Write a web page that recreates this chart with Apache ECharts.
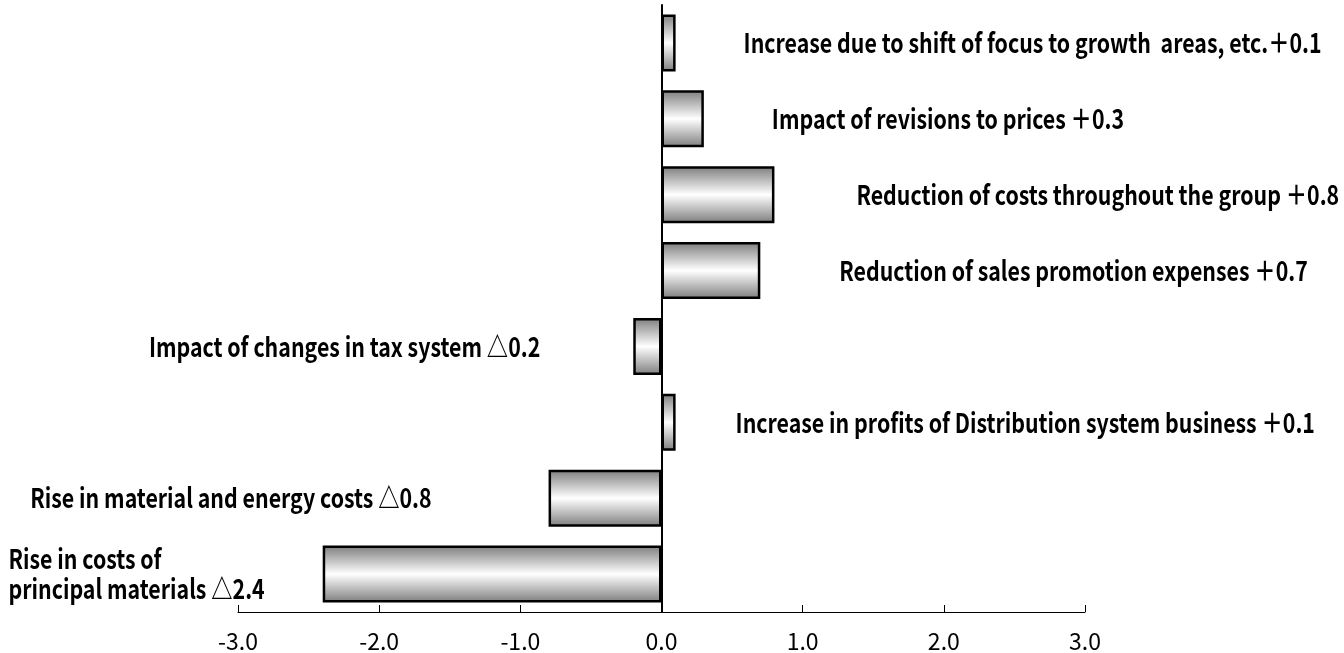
<!DOCTYPE html>
<html>
<head>
<meta charset="utf-8">
<script src="https://cdn.jsdelivr.net/npm/echarts@6/dist/echarts.min.js"></script>
<style>
  html, body { margin: 0; padding: 0; background: #fff; }
  #chart { width: 1344px; height: 653px; }
</style>
</head>
<body>
<div id="chart"></div>
<script>
// 各要因（上から順）
const categories = [
  'Increase due to shift of focus to growth  areas, etc.',
  'Impact of revisions to prices',
  'Reduction of costs throughout the group',
  'Reduction of sales promotion expenses',
  'Impact of changes in tax system',
  'Increase in profits of Distribution system business',
  'Rise in material and energy costs',
  'Rise in costs of\nprincipal materials'
]
const values = [0.1, 0.3, 0.8, 0.7, -0.2, 0.1, -0.8, -2.4]
const xTicks = [-3, -2, -1, 0, 1, 2, 3]

// ラベルとバーの間隔(px)
const labelGap = [68, 68, 82, 79, 93, 60, 117, 58]

const chart = echarts.init(document.getElementById('chart'))

// 符号付きの値 ＋0.1 / △0.2
function signed (v) {
  return (v >= 0 ? '＋' : '△') + Math.abs(v).toFixed(1)
}

function labelText (i) {
  const name = categories[i]
  const v = values[i]
  if (name.indexOf('\n') >= 0) {
    const lines = name.split('\n')
    lines[lines.length - 1] += ' ' + signed(v)
    return lines.map((line) => '{l|' + line + '}').join('\n')
  }
  return name + (i === 0 ? '' : ' ') + signed(v)
}

const barColor = new echarts.graphic.LinearGradient(0, 0, 0, 1, [
  { offset: 0, color: '#7c7c7c' },
  { offset: 0.5, color: '#ffffff' },
  { offset: 1, color: '#7c7c7c' }
])

const textStyle = {
  fill: '#000',
  fontSize: 27,
  fontWeight: 'bold',
  fontFamily: "'Noto Sans CJK JP', sans-serif",
  lineHeight: 30
}

const option = {
  animation: false,
  grid: { left: 238, right: 259, top: 5, bottom: 39 },
  xAxis: {
    type: 'value',
    min: xTicks[0],
    max: xTicks[xTicks.length - 1],
    interval: 1,
    splitLine: { show: false },
    axisLine: { show: true, lineStyle: { color: '#000', width: 1 } },
    axisTick: { show: true, inside: true, length: 7, lineStyle: { color: '#000' } },
    axisLabel: {
      margin: 18,
      color: '#000',
      fontSize: 23,
      fontFamily: "'Noto Sans CJK JP', sans-serif",
      formatter: (v) => v.toFixed(1)
    }
  },
  yAxis: {
    type: 'category',
    inverse: true,
    data: categories,
    axisLine: { show: true, onZero: true, lineStyle: { color: '#000', width: 2 } },
    axisTick: { show: false },
    axisLabel: { show: false },
    splitLine: { show: false }
  },
  series: [
    {
      type: 'bar',
      data: values,
      barWidth: 57,
      itemStyle: {
        color: barColor,
        borderColor: '#000',
        borderWidth: 2.5
      },
      z: 3
    },
    {
      // ラベル（横に詰めた太字）
      type: 'custom',
      data: values.map((v, i) => [v, i]),
      encode: { x: 0, y: 1 },
      silent: true,
      z: 4,
      renderItem: (params, api) => {
        const i = params.dataIndex
        const v = api.value(0)
        const pt = api.coord([v, i])
        const dir = v >= 0 ? 1 : -1
        return {
          type: 'text',
          x: pt[0] + dir * labelGap[i],
          y: pt[1],
          scaleX: 0.79,
          style: Object.assign({}, textStyle, {
            text: labelText(i),
            align: v >= 0 ? 'left' : 'right',
            verticalAlign: 'middle',
            rich: {
              l: Object.assign({}, textStyle, { align: 'left' })
            }
          })
        }
      }
    }
  ]
}

chart.setOption(option)
</script>
</body>
</html>
